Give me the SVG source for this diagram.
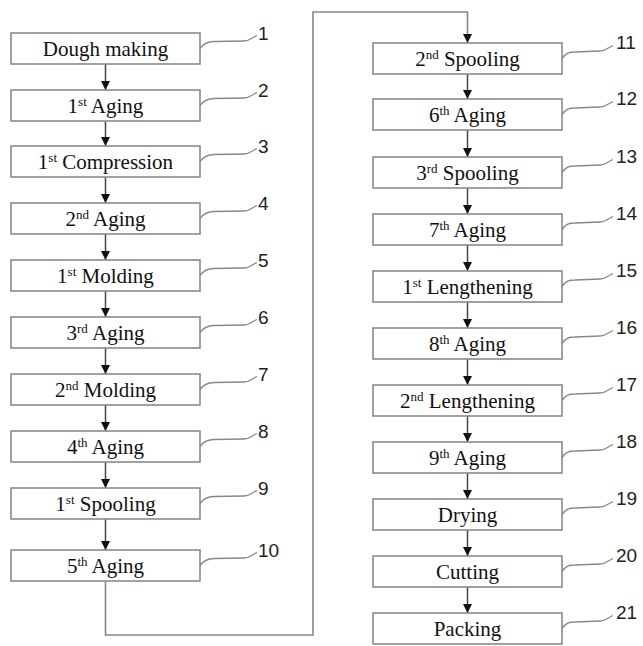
<svg xmlns="http://www.w3.org/2000/svg" xmlns:xlink="http://www.w3.org/1999/xlink" width="643" height="646" viewBox="0 0 643 646">
<style>
.box{fill:#fff;stroke:#8a8a8a;stroke-width:1.6}
.t{font-family:'Liberation Serif','DejaVu Serif','Times New Roman',serif;font-size:21px;fill:#111;text-anchor:middle}
.sup{font-size:13px}
.num{font-family:'Liberation Sans','DejaVu Sans',Arial,sans-serif;font-size:19px;fill:#222}
.lead{fill:none;stroke:#888;stroke-width:1.3}
.flow{fill:none;stroke:#444;stroke-width:1.5}
.loop{fill:none;stroke:#888;stroke-width:1.6}
</style>
<defs>
<marker id="ah" viewBox="0 0 10 10" refX="10" refY="5" markerUnits="userSpaceOnUse" markerWidth="10" markerHeight="9" orient="auto">
<path d="M0,0 L10,5 L0,10 Z" fill="#111"/>
</marker>
<path id="ldL" class="lead" d="M0,0 C4,-5.5 8,-7 14,-7 L44,-7.5 C50,-7.5 52,-11 57,-13"/>
<path id="ldR" class="lead" d="M0,0 C4,-5.5 7,-6.5 13,-6.5 L38,-7.5 C44,-7.5 46,-11 51,-13"/>
</defs>
<rect width="643" height="646" fill="#fff"/>

<g id="connectors">
<path class="flow" d="M105.5,64 V90" marker-end="url(#ah)"/>
<path class="flow" d="M105.5,121 V146" marker-end="url(#ah)"/>
<path class="flow" d="M105.5,177 V203" marker-end="url(#ah)"/>
<path class="flow" d="M105.5,234 V260" marker-end="url(#ah)"/>
<path class="flow" d="M105.5,291 V317" marker-end="url(#ah)"/>
<path class="flow" d="M105.5,348 V374" marker-end="url(#ah)"/>
<path class="flow" d="M105.5,405 V431" marker-end="url(#ah)"/>
<path class="flow" d="M105.5,462 V488" marker-end="url(#ah)"/>
<path class="flow" d="M105.5,519 V550" marker-end="url(#ah)"/>
<path class="loop" d="M105.5,581 V635 H313 V12 H467.5 V43" marker-end="url(#ah)"/>
<path class="flow" d="M467.5,74 V99" marker-end="url(#ah)"/>
<path class="flow" d="M467.5,130 V157" marker-end="url(#ah)"/>
<path class="flow" d="M467.5,188 V214" marker-end="url(#ah)"/>
<path class="flow" d="M467.5,245 V271" marker-end="url(#ah)"/>
<path class="flow" d="M467.5,302 V328" marker-end="url(#ah)"/>
<path class="flow" d="M467.5,359 V385" marker-end="url(#ah)"/>
<path class="flow" d="M467.5,416 V442" marker-end="url(#ah)"/>
<path class="flow" d="M467.5,473 V499" marker-end="url(#ah)"/>
<path class="flow" d="M467.5,530 V556" marker-end="url(#ah)"/>
<path class="flow" d="M467.5,587 V613" marker-end="url(#ah)"/>
</g>

<g id="n1"><rect class="box" x="11" y="33" width="189" height="31"/><text class="t" x="105.5" y="55.5">Dough making</text><use xlink:href="#ldL" x="200" y="48.5"/><text class="num" x="258" y="40">1</text></g>
<g id="n2"><rect class="box" x="11" y="90" width="189" height="31"/><text class="t" x="105.5" y="112.5">1<tspan class="sup" dy="-7">st</tspan><tspan dy="7"> Aging</tspan></text><use xlink:href="#ldL" x="200" y="105.5"/><text class="num" x="258" y="97">2</text></g>
<g id="n3"><rect class="box" x="11" y="146" width="189" height="31"/><text class="t" x="105.5" y="168.5">1<tspan class="sup" dy="-7">st</tspan><tspan dy="7"> Compression</tspan></text><use xlink:href="#ldL" x="200" y="161.5"/><text class="num" x="258" y="153">3</text></g>
<g id="n4"><rect class="box" x="11" y="203" width="189" height="31"/><text class="t" x="105.5" y="225.5">2<tspan class="sup" dy="-7">nd</tspan><tspan dy="7"> Aging</tspan></text><use xlink:href="#ldL" x="200" y="218.5"/><text class="num" x="258" y="210">4</text></g>
<g id="n5"><rect class="box" x="11" y="260" width="189" height="31"/><text class="t" x="105.5" y="282.5">1<tspan class="sup" dy="-7">st</tspan><tspan dy="7"> Molding</tspan></text><use xlink:href="#ldL" x="200" y="275.5"/><text class="num" x="258" y="267">5</text></g>
<g id="n6"><rect class="box" x="11" y="317" width="189" height="31"/><text class="t" x="105.5" y="339.5">3<tspan class="sup" dy="-7">rd</tspan><tspan dy="7"> Aging</tspan></text><use xlink:href="#ldL" x="200" y="332.5"/><text class="num" x="258" y="324">6</text></g>
<g id="n7"><rect class="box" x="11" y="374" width="189" height="31"/><text class="t" x="105.5" y="396.5">2<tspan class="sup" dy="-7">nd</tspan><tspan dy="7"> Molding</tspan></text><use xlink:href="#ldL" x="200" y="389.5"/><text class="num" x="258" y="381">7</text></g>
<g id="n8"><rect class="box" x="11" y="431" width="189" height="31"/><text class="t" x="105.5" y="453.5">4<tspan class="sup" dy="-7">th</tspan><tspan dy="7"> Aging</tspan></text><use xlink:href="#ldL" x="200" y="446.5"/><text class="num" x="258" y="438">8</text></g>
<g id="n9"><rect class="box" x="11" y="488" width="189" height="31"/><text class="t" x="105.5" y="510.5">1<tspan class="sup" dy="-7">st</tspan><tspan dy="7"> Spooling</tspan></text><use xlink:href="#ldL" x="200" y="503.5"/><text class="num" x="258" y="495">9</text></g>
<g id="n10"><rect class="box" x="11" y="550" width="189" height="31"/><text class="t" x="105.5" y="572.5">5<tspan class="sup" dy="-7">th</tspan><tspan dy="7"> Aging</tspan></text><use xlink:href="#ldL" x="200" y="565.5"/><text class="num" x="258" y="557">10</text></g>

<g id="n11"><rect class="box" x="373" y="43" width="189" height="31"/><text class="t" x="467.5" y="65.5">2<tspan class="sup" dy="-7">nd</tspan><tspan dy="7"> Spooling</tspan></text><use xlink:href="#ldR" x="562" y="58.5"/><text class="num" x="616" y="49">11</text></g>
<g id="n12"><rect class="box" x="373" y="99" width="189" height="31"/><text class="t" x="467.5" y="121.5">6<tspan class="sup" dy="-7">th</tspan><tspan dy="7"> Aging</tspan></text><use xlink:href="#ldR" x="562" y="114.5"/><text class="num" x="616" y="105">12</text></g>
<g id="n13"><rect class="box" x="373" y="157" width="189" height="31"/><text class="t" x="467.5" y="179.5">3<tspan class="sup" dy="-7">rd</tspan><tspan dy="7"> Spooling</tspan></text><use xlink:href="#ldR" x="562" y="172.5"/><text class="num" x="616" y="163">13</text></g>
<g id="n14"><rect class="box" x="373" y="214" width="189" height="31"/><text class="t" x="467.5" y="236.5">7<tspan class="sup" dy="-7">th</tspan><tspan dy="7"> Aging</tspan></text><use xlink:href="#ldR" x="562" y="229.5"/><text class="num" x="616" y="220">14</text></g>
<g id="n15"><rect class="box" x="373" y="271" width="189" height="31"/><text class="t" x="467.5" y="293.5">1<tspan class="sup" dy="-7">st</tspan><tspan dy="7"> Lengthening</tspan></text><use xlink:href="#ldR" x="562" y="286.5"/><text class="num" x="616" y="277">15</text></g>
<g id="n16"><rect class="box" x="373" y="328" width="189" height="31"/><text class="t" x="467.5" y="350.5">8<tspan class="sup" dy="-7">th</tspan><tspan dy="7"> Aging</tspan></text><use xlink:href="#ldR" x="562" y="343.5"/><text class="num" x="616" y="334">16</text></g>
<g id="n17"><rect class="box" x="373" y="385" width="189" height="31"/><text class="t" x="467.5" y="407.5">2<tspan class="sup" dy="-7">nd</tspan><tspan dy="7"> Lengthening</tspan></text><use xlink:href="#ldR" x="562" y="400.5"/><text class="num" x="616" y="391">17</text></g>
<g id="n18"><rect class="box" x="373" y="442" width="189" height="31"/><text class="t" x="467.5" y="464.5">9<tspan class="sup" dy="-7">th</tspan><tspan dy="7"> Aging</tspan></text><use xlink:href="#ldR" x="562" y="457.5"/><text class="num" x="616" y="448">18</text></g>
<g id="n19"><rect class="box" x="373" y="499" width="189" height="31"/><text class="t" x="467.5" y="521.5">Drying</text><use xlink:href="#ldR" x="562" y="514.5"/><text class="num" x="616" y="505">19</text></g>
<g id="n20"><rect class="box" x="373" y="556" width="189" height="31"/><text class="t" x="467.5" y="578.5">Cutting</text><use xlink:href="#ldR" x="562" y="571.5"/><text class="num" x="616" y="562">20</text></g>
<g id="n21"><rect class="box" x="373" y="613" width="189" height="31"/><text class="t" x="467.5" y="635.5">Packing</text><use xlink:href="#ldR" x="562" y="628.5"/><text class="num" x="616" y="619">21</text></g>
</svg>
